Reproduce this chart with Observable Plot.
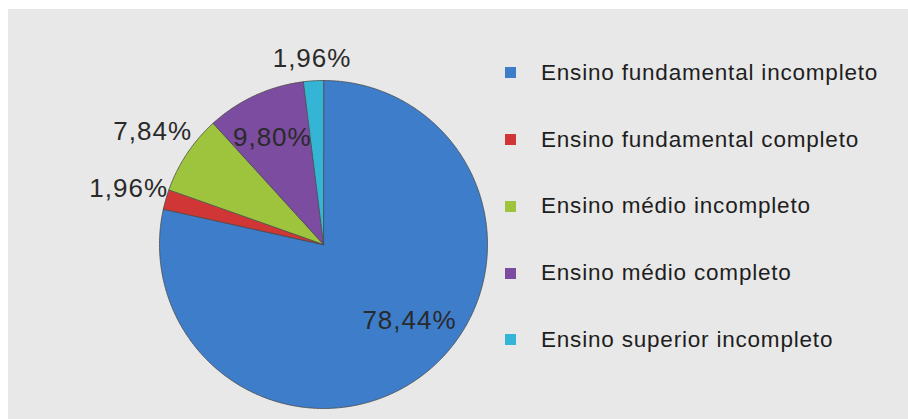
<!DOCTYPE html>
<html>
<head>
<meta charset="utf-8">
<script src="https://cdn.jsdelivr.net/npm/d3@7"></script>
<script src="https://cdn.jsdelivr.net/npm/@observablehq/plot@0.6"></script>
<style>
  html, body { margin: 0; padding: 0; background: #ffffff; overflow: hidden; width: 908px; height: 419px; }
  #wrap { position: absolute; left: 8px; top: 9px; right: 0; bottom: 0; background: #e8e8e8; overflow: hidden; }
  #chart { position: absolute; left: 0; top: 0; }
  #chart text { letter-spacing: 1px; }
  #legend { position: absolute; left: 497px; top: 30.6px; }
  #legend .lg-swatches { font-family: "Liberation Sans", Arial, sans-serif; font-size: 22.5px; letter-spacing: 0.8px; color: #1e1e1e; margin: 0; }
  #legend .lg-swatch { height: 66.75px; padding: 0; }
  #legend .lg-swatch > svg { margin-right: 25px; }
</style>
</head>
<body>
<div id="wrap"><div id="chart"></div><div id="legend"></div></div>
<script>
// ---- data ----
const categories = [
  "Ensino fundamental incompleto",
  "Ensino fundamental completo",
  "Ensino médio incompleto",
  "Ensino médio completo",
  "Ensino superior incompleto"
];
const values = [78.44, 1.96, 7.84, 9.80, 1.96];
const colors = ["#3d7dca", "#d03636", "#9dc43c", "#7b4c9f", "#35b5d5"];

// ---- label layout (radius as fraction of pie radius, angular nudge in degrees) ----
const labelRadius = [0.70, 1.235, 1.25, 0.72, 1.137];
const labelTurn = [-9.7, 0, 0, -1, 0];

// ---- build slices (angles clockwise from 12 o'clock) ----
const total = d3.sum(values);
let acc = 0;
const slices = values.map((v, i) => {
  const a0 = acc / total * 2 * Math.PI;
  acc += v;
  const a1 = acc / total * 2 * Math.PI;
  return {cat: categories[i], value: v, a0, a1};
});

const points = [];
for (const s of slices) {
  points.push({cat: s.cat, x: 0, y: 0});
  const n = Math.max(2, Math.ceil((s.a1 - s.a0) / (Math.PI / 360)));
  for (let k = 0; k <= n; k++) {
    const a = s.a0 + (s.a1 - s.a0) * k / n;
    points.push({cat: s.cat, x: Math.sin(a), y: Math.cos(a)});
  }
}

const labels = slices.map((s, i) => {
  const a = (s.a0 + s.a1) / 2 + labelTurn[i] * Math.PI / 180;
  return {
    x: labelRadius[i] * Math.sin(a),
    y: labelRadius[i] * Math.cos(a),
    text: s.value.toFixed(2).replace(".", ",") + "%"
  };
});

const chart = Plot.plot({
  width: 900,
  height: 410,
  style: {background: "transparent", overflow: "visible", fontFamily: "'Liberation Sans', Arial, sans-serif"},
  x: {domain: [-1, 1], range: [151, 479], axis: null},
  y: {domain: [-1, 1], range: [399, 71], axis: null},
  color: {domain: categories, range: colors},
  marks: [
    Plot.line(points, {x: "x", y: "y", z: "cat", fill: "cat", stroke: "#4a4a4a", strokeWidth: 0.8, curve: "linear-closed"}),
    Plot.text(labels, {x: "x", y: "y", text: "text", fontSize: 26, fill: "#2a2a2a"})
  ]
});
document.getElementById("chart").appendChild(chart);

const legend = Plot.legend({
  color: {domain: categories, range: colors},
  legend: "swatches",
  columns: 1,
  swatchSize: 11,
  className: "lg"
});
document.getElementById("legend").appendChild(legend);
</script>
</body>
</html>
